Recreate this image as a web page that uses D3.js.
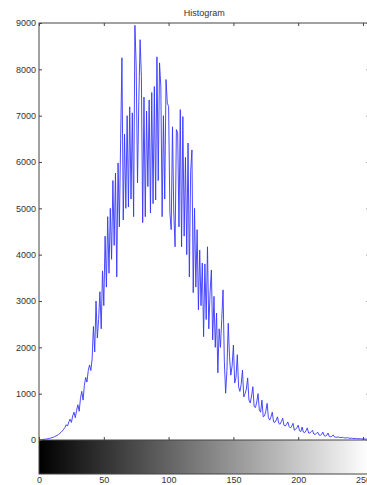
<!DOCTYPE html>
<html>
<head>
<meta charset="utf-8">
<script src="https://cdn.jsdelivr.net/npm/d3@7"></script>
<style>
  body { margin: 0; background: #fff; }
  svg { display: block; font-family: "Liberation Sans", Arial, sans-serif; }
  .axis text { fill: #333; font-size: 9px; }
  .axis path, .axis line { stroke: #444; }
</style>
</head>
<body>
<svg id="chart" width="367" height="485"></svg>
<script>
// pixel counts for gray levels 0..255
var counts = [
  5, 8, 10, 12, 15, 18, 22, 28, 35, 42,
  50, 60, 72, 85, 100, 120, 140, 165, 195, 230,
  270, 330, 300, 390, 450, 380, 520, 600, 480, 640,
  760, 620, 900, 1050, 860, 1180, 1350, 1250, 1500, 1620,
  1500, 1750, 2450, 1900, 3000, 2200, 2600, 3200, 2400, 3650,
  2900, 4400, 3300, 4820, 3600, 5000, 3900, 5600, 4200, 5760,
  3520, 5980, 4600, 6500, 8250, 4750, 6600, 5000, 7000, 5030,
  7190, 5200, 7060, 4820, 8950, 8050, 5550, 7300, 8640, 7840,
  4690, 7400, 4820, 7100, 5470, 7340, 4900, 7500, 5100, 7630,
  5180, 8270, 5600, 8140, 7620, 4820, 7000, 5200, 7780, 7270,
  7200, 4900, 4540, 6760, 4900, 4170, 6700, 6630, 4600, 7130,
  4170, 6980, 4400, 6100, 4000, 6410, 3520, 5800, 6260, 3180,
  5000, 3300, 4540, 2810, 4100, 2900, 3820, 2230, 3800, 2600,
  4170, 2400, 3200, 3670, 2160, 3100, 2000, 2740, 1450, 2400,
  2000, 2600, 3240, 1700, 1010, 1500, 2520, 1800, 1400, 1600,
  2050, 1230, 1350, 1840, 1150, 1050, 1200, 1510, 930, 1000,
  1100, 1340, 860, 800, 950, 1150, 720, 700, 820, 1000,
  650, 600, 860, 500, 520, 620, 790, 480, 430, 500,
  600, 390, 380, 430, 500, 360, 340, 400, 470, 320,
  300, 340, 390, 290, 260, 300, 360, 210, 230, 270,
  320, 200, 180, 280, 170, 160, 200, 260, 150, 150,
  180, 210, 130, 120, 140, 170, 110, 100, 120, 170,
  95, 85, 100, 150, 75, 70, 80, 110, 65, 60,
  60, 65, 55, 50, 60, 50, 45, 45, 50, 40,
  38, 40, 35, 32, 35, 30, 28, 28, 25, 25,
  22, 22, 20, 20, 18, 18
];
var xTicks = [0, 50, 100, 150, 200, 250];
var yTicks = [0, 1000, 2000, 3000, 4000, 5000, 6000, 7000, 8000, 9000];
var title = "Histogram";

var svg = d3.select("#chart"),
    margin = {top: 23, left: 39},
    width = 330.5,
    height = 417,
    barH = 34,
    g = svg.append("g").attr("transform", "translate(" + margin.left + "," + margin.top + ")");

var x = d3.scaleLinear().domain([0, 255]).range([0, width]);
var y = d3.scaleLinear().domain([0, 9000]).range([height, 0]);

// gray colorbar under the plot, black at 0 to white at 255
var grad = svg.append("defs").append("linearGradient")
    .attr("id", "gray")
    .attr("gradientUnits", "userSpaceOnUse")
    .attr("x1", x(0)).attr("x2", x(255))
    .attr("y1", 0).attr("y2", 0);
grad.append("stop").attr("offset", 0).attr("stop-color", "#000");
grad.append("stop").attr("offset", 1).attr("stop-color", "#fff");

g.append("rect")
    .attr("x", x(0))
    .attr("y", height)
    .attr("width", x(255) - x(0))
    .attr("height", barH)
    .attr("fill", "url(#gray)");

// plot box
g.append("rect")
    .attr("width", width)
    .attr("height", height + barH)
    .attr("fill", "none")
    .attr("stroke", "#444");
g.append("line")
    .attr("x1", 0).attr("x2", width)
    .attr("y1", height).attr("y2", height)
    .attr("stroke", "#444");

// histogram line
var line = d3.line()
    .x(function(d, i) { return x(i); })
    .y(function(d) { return y(d); });

g.append("path")
    .datum(counts)
    .attr("fill", "none")
    .attr("stroke", "#3535ff")
    .attr("stroke-width", 0.9)
    .attr("stroke-linejoin", "round")
    .attr("d", line);

// y axis with inward ticks, left and right
g.append("g")
    .attr("class", "axis")
    .call(d3.axisLeft(y).tickValues(yTicks).tickSize(-3).tickPadding(3).tickFormat(d3.format("d")))
    .call(function(a) { a.select(".domain").remove(); });
g.append("g")
    .attr("class", "axis")
    .attr("transform", "translate(" + width + ",0)")
    .call(d3.axisRight(y).tickValues(yTicks).tickSize(-3).tickFormat(""))
    .call(function(a) { a.select(".domain").remove(); });

// x ticks on top and above the colorbar
g.append("g")
    .attr("class", "axis")
    .call(d3.axisTop(x).tickValues(xTicks).tickSize(-3).tickFormat(""))
    .call(function(a) { a.select(".domain").remove(); });
g.append("g")
    .attr("class", "axis")
    .attr("transform", "translate(0," + height + ")")
    .call(d3.axisBottom(x).tickValues(xTicks).tickSize(-3).tickFormat(""))
    .call(function(a) { a.select(".domain").remove(); });

// x labels under the colorbar
g.append("g")
    .attr("class", "axis")
    .attr("transform", "translate(0," + (height + barH) + ")")
    .call(d3.axisBottom(x).tickValues(xTicks).tickSize(0).tickPadding(3))
    .call(function(a) { a.select(".domain").remove(); });

svg.append("text")
    .attr("x", margin.left + width / 2)
    .attr("y", 16)
    .attr("text-anchor", "middle")
    .attr("fill", "#333")
    .attr("font-size", "9px")
    .text(title);
</script>
</body>
</html>
